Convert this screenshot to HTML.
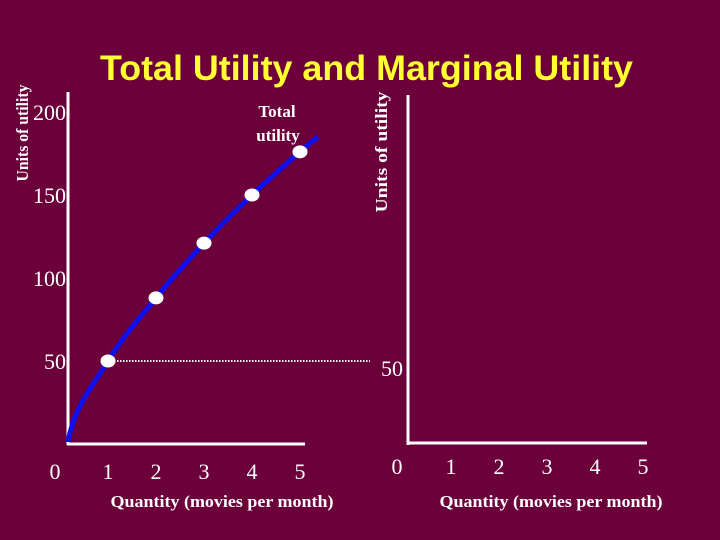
<!DOCTYPE html>
<html><head><meta charset="utf-8"><style>
html,body{margin:0;padding:0;background:#6b003b;}
svg{display:block}
</style></head><body>
<svg width="720" height="540" viewBox="0 0 720 540" xmlns="http://www.w3.org/2000/svg">
<rect width="720" height="540" fill="#6b003b"/>
<text x="100" y="80" font-family="Liberation Sans, sans-serif" font-weight="bold" font-size="35" fill="#ffff33" textLength="533" lengthAdjust="spacingAndGlyphs">Total Utility and Marginal Utility</text>
<g id="left"></g>
<g id="right"></g>
</svg>
<script>
const quantities = [1, 2, 3, 4, 5];
const totalUtility = [50, 88, 121, 150, 176];
const yTickValues = [50, 100, 150, 200];
const xTickLabels = ['0', '1', '2', '3', '4', '5'];
const rightYTicks = [50];

const NS = 'http://www.w3.org/2000/svg';
function mk(parent, tag, attrs, text) {
  const e = document.createElementNS(NS, tag);
  for (const k in attrs) e.setAttribute(k, attrs[k]);
  if (text !== undefined) e.textContent = text;
  parent.appendChild(e);
  return e;
}
const lx = q => 60 + 48 * q;
const ly = v => 444 - 1.66 * v;
const rx = q => 403 + 48 * q;

const L = document.getElementById('left');
const R = document.getElementById('right');
const serif = 'Liberation Serif, serif';

let e;
e = mk(L, 'line', {x1: 68, y1: 92, x2: 68, y2: 445, stroke: '#fff', 'stroke-width': 3});


e = mk(L, 'line', {x1: 67, y1: 444, x2: 305, y2: 444, stroke: '#fff', 'stroke-width': 3});


e = mk(L, 'text', {transform: 'translate(28,133) rotate(-90)', 'text-anchor': 'middle', 'font-family': serif, 'font-weight': 'bold', 'font-size': 16.5, fill: '#fff', textLength: 97, lengthAdjust: 'spacingAndGlyphs'}, 'Units of utility');


yTickValues.forEach(v => {
  const t = mk(L, 'text', {x: 66, y: ly(v) + 8, 'text-anchor': 'end', 'font-family': serif, 'font-size': 22, fill: '#fff'}, String(v));
  
  
});
xTickLabels.forEach((s, i) => {
  const x = i === 0 ? 55 : lx(i);
  const t = mk(L, 'text', {x: x, y: 479, 'text-anchor': 'middle', 'font-family': serif, 'font-size': 22, fill: '#fff'}, s);
  
  
});
e = mk(L, 'text', {x: 222, y: 507, 'text-anchor': 'middle', 'font-family': serif, 'font-weight': 'bold', 'font-size': 17, fill: '#fff', textLength: 223, lengthAdjust: 'spacingAndGlyphs'}, 'Quantity (movies per month)');



e = mk(L, 'line', {x1: lx(quantities[0]), y1: ly(totalUtility[0]), x2: 370, y2: ly(totalUtility[0]), stroke: '#fff', 'stroke-width': 2, 'stroke-dasharray': '1.5,1.5'});



const pts = [[lx(0) + 8, ly(0) - 2]].concat(quantities.map((q, i) => [lx(q), ly(totalUtility[i])]));
const n = totalUtility.length;
pts.push([lx(quantities[n - 1]) + 18, ly(totalUtility[n - 1] + 9)]);
let d = 'M' + pts[0][0] + ',' + pts[0][1];
for (let i = 0; i < pts.length - 1; i++) {
  const p0 = pts[Math.max(0, i - 1)], p1 = pts[i], p2 = pts[i + 1], p3 = pts[Math.min(pts.length - 1, i + 2)];
  let c1 = [p1[0] + (p2[0] - p0[0]) / 6, p1[1] + (p2[1] - p0[1]) / 6];
  if (i === 0) c1 = [p1[0] + 6, p1[1] - 35];
  const c2 = [p2[0] - (p3[0] - p1[0]) / 6, p2[1] - (p3[1] - p1[1]) / 6];
  d += ` C${c1[0]},${c1[1]} ${c2[0]},${c2[1]} ${p2[0]},${p2[1]}`;
}
e = mk(L, 'path', {d: d, fill: 'none', stroke: '#1010ee', 'stroke-width': 5});


quantities.forEach((q, i) => {
  const c = mk(L, 'ellipse', {cx: lx(q), cy: ly(totalUtility[i]), rx: 7.5, ry: 6.5, fill: '#fff'});
  
  
});
e = mk(L, 'text', {x: 277, y: 117, 'text-anchor': 'middle', 'font-family': serif, 'font-weight': 'bold', 'font-size': 17, fill: '#fff'}, 'Total');


e = mk(L, 'text', {x: 278, y: 141, 'text-anchor': 'middle', 'font-family': serif, 'font-weight': 'bold', 'font-size': 17, fill: '#fff'}, 'utility');



e = mk(R, 'line', {x1: 408, y1: 95, x2: 408, y2: 445, stroke: '#fff', 'stroke-width': 3});


e = mk(R, 'line', {x1: 407, y1: 443, x2: 647, y2: 443, stroke: '#fff', 'stroke-width': 3});


e = mk(R, 'text', {transform: 'translate(387,152) rotate(-90)', 'text-anchor': 'middle', 'font-family': serif, 'font-weight': 'bold', 'font-size': 17, fill: '#fff', textLength: 121, lengthAdjust: 'spacingAndGlyphs'}, 'Units of utility');


rightYTicks.forEach(v => {
  const t = mk(R, 'text', {x: 403, y: ly(v) + 15, 'text-anchor': 'end', 'font-family': serif, 'font-size': 22, fill: '#fff'}, String(v));
  
  
});
xTickLabels.forEach((s, i) => {
  const x = i === 0 ? 397 : rx(i);
  const t = mk(R, 'text', {x: x, y: 474, 'text-anchor': 'middle', 'font-family': serif, 'font-size': 22, fill: '#fff'}, s);
  
  
});
e = mk(R, 'text', {x: 551, y: 507, 'text-anchor': 'middle', 'font-family': serif, 'font-weight': 'bold', 'font-size': 17, fill: '#fff', textLength: 223, lengthAdjust: 'spacingAndGlyphs'}, 'Quantity (movies per month)');


</script>
</body></html>
